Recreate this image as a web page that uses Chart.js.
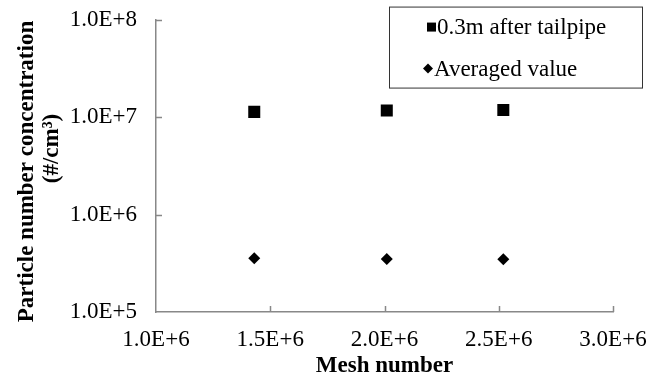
<!DOCTYPE html>
<html>
<head>
<meta charset="utf-8">
<script src="https://cdn.jsdelivr.net/npm/chart.js@4/dist/chart.umd.min.js"></script>
<style>
    html, body { margin: 0; padding: 0; background: #fff; }
    canvas { display: block; }
</style>
</head>
<body>
<canvas id="meshChart" width="661" height="382"></canvas>
<script>
// Mesh number of each case
const meshNumbers = [1.43e6, 2.01e6, 2.52e6];
// Particle number concentration (#/cm3)
const tailpipeValues = [1.13e7, 1.17e7, 1.18e7];
const averagedValues = [3.55e5, 3.49e5, 3.48e5];

const seriesLabels = ['0.3m after tailpipe', 'Averaged value'];

const xTickValues = [1.0e6, 1.5e6, 2.0e6, 2.5e6, 3.0e6];
const xTickLabels = ['1.0E+6', '1.5E+6', '2.0E+6', '2.5E+6', '3.0E+6'];
const yTickValues = [1e5, 1e6, 1e7, 1e8];
const yTickLabels = ['1.0E+5', '1.0E+6', '1.0E+7', '1.0E+8'];

const axisColor = '#888888';
const serif = '"Liberation Serif", "Times New Roman", serif';

// Inward tick marks (the library only draws them outside the axis)
const innerTicks = {
    id: 'innerTicks',
    afterDraw(chart) {
        const ctx = chart.ctx;
        const xs = chart.scales.x;
        const ys = chart.scales.y;
        const area = chart.chartArea;
        ctx.save();
        ctx.strokeStyle = axisColor;
        ctx.lineWidth = 1.5;
        ctx.beginPath();
        xTickValues.slice(1).forEach(v => {
            const px = Math.round(xs.getPixelForValue(v)) + 0.5;
            ctx.moveTo(px, area.bottom);
            ctx.lineTo(px, area.bottom - 6);
        });
        yTickValues.slice(1).forEach(v => {
            const py = Math.round(ys.getPixelForValue(v)) + 0.5;
            ctx.moveTo(area.left, py);
            ctx.lineTo(area.left + 6, py);
        });
        ctx.stroke();
        ctx.restore();
    }
};

// Boxed legend in the top right corner
const boxLegend = {
    id: 'boxLegend',
    afterDraw(chart) {
        const ctx = chart.ctx;
        const area = chart.chartArea;
        const left = area.right - 224;
        const top = area.top - 13;
        ctx.save();
        ctx.strokeStyle = '#333';
        ctx.lineWidth = 1;
        ctx.strokeRect(left + 0.5, top + 0.5, 253, 81);

        ctx.fillStyle = '#000';
        // square marker
        ctx.fillRect(left + 38, top + 16, 9, 9);
        // diamond marker
        const dx = left + 39, dy = top + 62;
        ctx.beginPath();
        ctx.moveTo(dx - 5, dy);
        ctx.lineTo(dx, dy - 5);
        ctx.lineTo(dx + 5, dy);
        ctx.lineTo(dx, dy + 5);
        ctx.closePath();
        ctx.fill();

        ctx.font = '23px ' + serif;
        ctx.textBaseline = 'middle';
        ctx.textAlign = 'left';
        ctx.fillText(chart.data.datasets[0].label, left + 48, top + 21);
        ctx.fillText(chart.data.datasets[1].label, left + 45, top + 63);
        ctx.restore();
    }
};

const ctx = document.getElementById('meshChart').getContext('2d');
new Chart(ctx, {
    type: 'scatter',
    data: {
        datasets: [
            {
                label: seriesLabels[0],
                data: meshNumbers.map((x, i) => ({ x: x, y: tailpipeValues[i] })),
                pointStyle: 'rect',
                pointRadius: 8.5,
                borderWidth: 0,
                backgroundColor: '#000',
                borderColor: '#000'
            },
            {
                label: seriesLabels[1],
                data: meshNumbers.map((x, i) => ({ x: x, y: averagedValues[i] })),
                pointStyle: 'rectRot',
                pointRadius: 6,
                borderWidth: 0,
                backgroundColor: '#000',
                borderColor: '#000'
            }
        ]
    },
    options: {
        responsive: false,
        animation: false,
        layout: { padding: { left: 0, right: 48, top: 0, bottom: 0 } },
        plugins: {
            legend: { display: false },
            tooltip: { enabled: false }
        },
        scales: {
            x: {
                type: 'linear',
                min: 1.0e6,
                max: 3.0e6,
                afterBuildTicks: scale => { scale.ticks = xTickValues.map(v => ({ value: v })); },
                afterFit: scale => { scale.height = 70; },
                grid: { display: false, drawTicks: false },
                border: { display: true, color: axisColor, width: 1.5 },
                ticks: {
                    color: '#000',
                    padding: 14,
                    maxRotation: 0,
                    font: { family: serif, size: 23 },
                    callback: (v) => xTickLabels[xTickValues.indexOf(v)]
                },
                title: {
                    display: true,
                    text: 'Mesh number',
                    color: '#000',
                    padding: { top: 0, bottom: 2 },
                    font: { family: serif, size: 23, weight: 'bold' }
                }
            },
            y: {
                type: 'logarithmic',
                min: 1e5,
                max: 1e8,
                afterBuildTicks: scale => { scale.ticks = yTickValues.map(v => ({ value: v })); },
                afterFit: scale => { scale.width = 156; },
                grid: { display: false, drawTicks: false },
                border: { display: true, color: axisColor, width: 1.5 },
                ticks: {
                    color: '#000',
                    padding: 19,
                    // tiny line height keeps the top label from pushing the plot down
                    font: { family: serif, size: 23, lineHeight: 0.05 },
                    callback: (v) => yTickLabels[yTickValues.indexOf(v)]
                },
                title: {
                    display: true,
                    text: ['Particle number concentration  ', '      (#/cm³)'],
                    color: '#000',
                    padding: { top: 14, bottom: 0 },
                    font: { family: serif, size: 23, weight: 'bold', lineHeight: 1.1 }
                }
            }
        }
    },
    plugins: [innerTicks, boxLegend]
});
</script>
</body>
</html>
